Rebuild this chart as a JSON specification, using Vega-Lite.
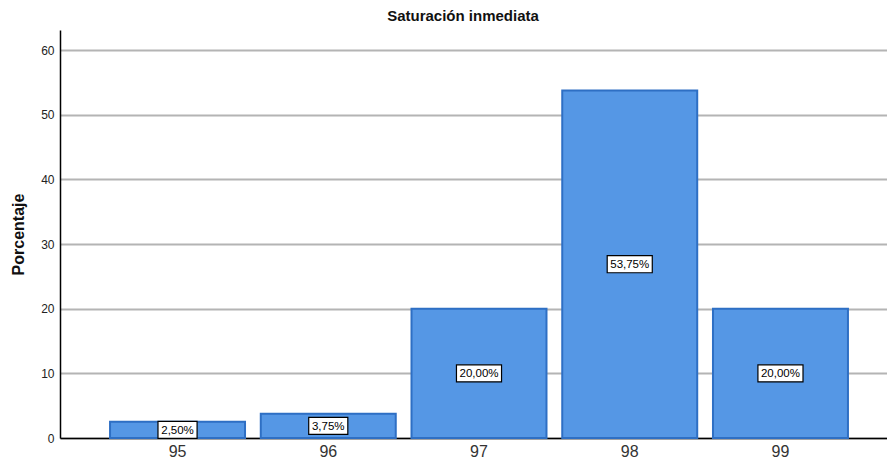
{
  "$schema": "https://vega.github.io/schema/vega-lite/v6.json",
  "width": 838,
  "height": 408,
  "autosize": {"type": "none"},
  "padding": {"left": 60, "top": 30, "right": 0, "bottom": 28},
  "background": "white",
  "title": {
    "text": "Saturación inmediata",
    "font": "Liberation Sans",
    "fontSize": 15,
    "fontWeight": "bold",
    "color": "#111111",
    "offset": 6,
    "dx": -16
  },
  "config": {
    "view": {"stroke": null},
    "font": "Liberation Sans"
  },
  "data": {
    "values": [
      {"valor": "95", "pct": 2.5},
      {"valor": "96", "pct": 3.75},
      {"valor": "97", "pct": 20.0},
      {"valor": "98", "pct": 53.75},
      {"valor": "99", "pct": 20.0}
    ]
  },
  "transform": [
    {"calculate": "replace(format(datum.pct, '.2f'), '.', ',') + '%'", "as": "etiqueta"},
    {"calculate": "datum.pct / 2", "as": "medio"},
    {"calculate": "length(datum.etiqueta)", "as": "largo"}
  ],
  "encoding": {
    "x": {
      "field": "valor",
      "type": "nominal",
      "scale": {"paddingInner": 0.1045, "paddingOuter": 0.332},
      "axis": {
        "title": null,
        "labelAngle": 0,
        "labelFontSize": 16,
        "labelColor": "#333333",
        "labelPadding": 5,
        "ticks": false,
        "domainColor": "#000000",
        "domainWidth": 1.5,
        "grid": false
      }
    }
  },
  "layer": [
    {
      "mark": {"type": "bar", "fill": "#5597e5", "stroke": "#2e6fc4", "strokeWidth": 2},
      "encoding": {
        "y": {
          "field": "pct",
          "type": "quantitative",
          "scale": {"domain": [0, 63.1], "nice": false},
          "axis": {
            "title": "Porcentaje",
            "titleFontSize": 16,
            "titleFontWeight": "bold",
            "titleColor": "#111111",
            "titleAngle": 270,
            "titleX": -42,
            "titleY": 204,
            "titleAlign": "center",
            "titleBaseline": "middle",
            "values": [0, 10, 20, 30, 40, 50, 60],
            "labelFontSize": 12,
            "labelColor": "#222222",
            "labelPadding": 6,
            "ticks": false,
            "domainColor": "#000000",
            "domainWidth": 1.5,
            "grid": true,
            "gridColor": "#b4b4b4",
            "gridWidth": 1.8,
            "zindex": 0
          }
        }
      }
    },
    {
      "mark": {"type": "point", "filled": true, "fill": "white", "stroke": "#000000", "strokeWidth": 1.2, "opacity": 1, "size": 2116},
      "encoding": {
        "y": {"field": "medio", "type": "quantitative"},
        "shape": {
          "field": "largo",
          "type": "nominal",
          "legend": null,
          "scale": {
            "domain": [5, 6],
            "range": [
              "M-0.85,-0.37L0.85,-0.37L0.85,0.37L-0.85,0.37Z",
              "M-0.98,-0.37L0.98,-0.37L0.98,0.37L-0.98,0.37Z"
            ]
          }
        }
      }
    },
    {
      "mark": {"type": "text", "fontSize": 11.5, "color": "#000000", "baseline": "middle", "align": "center", "dy": 1},
      "encoding": {
        "y": {"field": "medio", "type": "quantitative"},
        "text": {"field": "etiqueta"}
      }
    }
  ]
}
